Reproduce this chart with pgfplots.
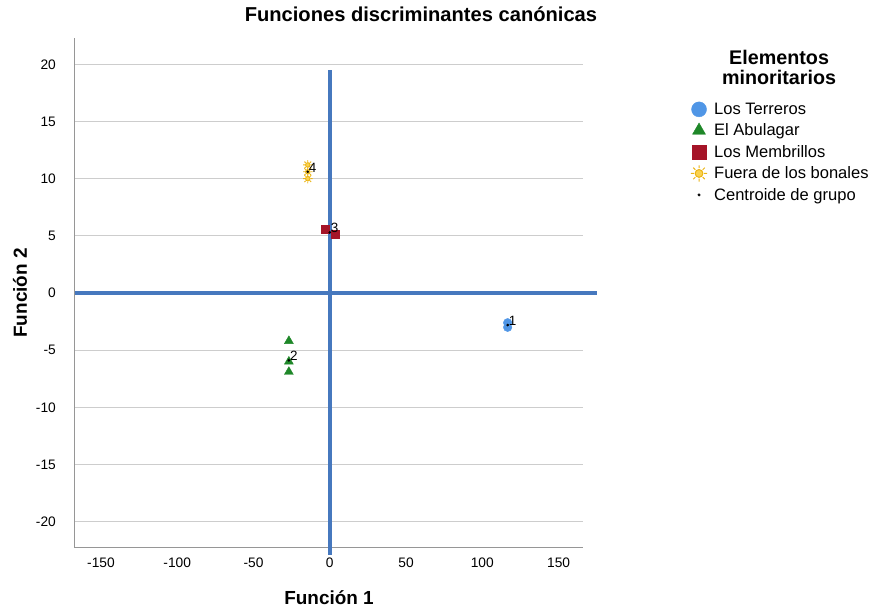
\documentclass[border=0pt]{standalone}
\usepackage{pgfplots}
\pgfplotsset{compat=1.18}
\usepackage{fontspec}
\setmainfont{Liberation Sans}
\definecolor{lineblue}{RGB}{70,120,190}
\definecolor{ptblue}{RGB}{80,150,230}
\definecolor{ptgreen}{RGB}{30,135,40}
\definecolor{ptred}{RGB}{165,20,40}
\definecolor{sunfill}{RGB}{250,210,80}
\definecolor{sundraw}{RGB}{235,180,20}
\definecolor{gridgray}{RGB}{205,205,205}
\definecolor{axgray}{RGB}{150,150,150}
\pgfdeclareplotmark{sun}{%
  \pgfpathcircle{\pgfpointorigin}{0.6\pgfplotmarksize}%
  \pgfusepathqfillstroke
  \foreach \a in {0,45,...,315}{%
    \pgfpathmoveto{\pgfpointpolar{\a}{0.8\pgfplotmarksize}}%
    \pgfpathlineto{\pgfpointpolar{\a}{1.25\pgfplotmarksize}}%
  }%
  \pgfusepathqstroke
}
\begin{document}
\begin{tikzpicture}
\begin{axis}[
  at={(0,0)}, anchor=south west,
  scale only axis, width=508bp, height=510bp,
  xmin=-167, xmax=166, ymin=-22.3, ymax=22.3,
  xtick={-150,-100,...,150}, ytick={-20,-15,...,20},
  axis x line*=bottom, axis y line*=left,
  axis line style={axgray, line width=1bp, -},
  major tick length=0pt,
  ymajorgrids, grid style={gridgray, line width=1bp},
  clip=false,
  /pgf/number format/assume math mode=true,
  tick label style={font=\fontsize{13.8}{16}\selectfont, inner sep=0pt},
  yticklabel style={anchor=east, xshift=-19bp},
  xticklabel style={anchor=north, yshift=-10bp},
  xlabel={Función 1}, ylabel={Función 2},
  label style={font=\bfseries\fontsize{19}{22}\selectfont},
  xlabel style={at={(axis description cs:0.5,-0.098)}, anchor=center},
  ylabel style={at={(axis description cs:-0.108,0.5)}, anchor=center},
  title={Funciones discriminantes canónicas},
  title style={font=\bfseries\fontsize{20.2}{22}\selectfont, at={(axis description cs:0.681,1.035)}, anchor=center},
  legend style={at={(axis description cs:1.212,0.877)}, anchor=north west, draw=none, fill=none,
    font=\fontsize{16.6}{19}\selectfont, row sep=4bp, inner sep=0pt,
    /tikz/every odd column/.append style={column sep=5bp}},
  legend cell align=left,
]
% data points
\addplot[only marks, mark=*, mark size=4.3bp, draw=ptblue, fill=ptblue, forget plot]
  coordinates {(116.6,-3.0) (116.6,-2.6)};
\addplot[only marks, mark=triangle*, mark size=5.2bp, draw=ptgreen, fill=ptgreen, forget plot]
  coordinates {(-26.8,-4.2) (-26.8,-6.0) (-26.8,-6.9)};
\addplot[only marks, mark=square*, mark size=4bp, draw=ptred, fill=ptred, forget plot]
  coordinates {(-3.3,5.6) (3.3,5.1)};
\addplot[only marks, mark=sun, mark size=3.8bp, draw=sundraw, fill=sunfill, line width=0.9bp, forget plot]
  coordinates {(-14.4,11.2) (-14.4,10.6) (-14.4,10.0)};
% reference lines through origin
\addplot[lineblue, line width=3.6bp, forget plot] coordinates {(-167,0) (175.5,0)};
\addplot[lineblue, line width=3.6bp, forget plot] coordinates {(0,19.5) (0,-22.9)};
% centroids
\addplot[only marks, mark=*, mark size=1.1bp, black, forget plot,
  nodes near coords, point meta=explicit symbolic,
  every node near coord/.append style={anchor=south west, font=\fontsize{13.5}{15}\selectfont, inner sep=0.5bp, xshift=0.5bp, yshift=-1bp}]
  coordinates {(116.6,-2.8)[1] (-26.8,-5.9)[2] (0,5.3)[3] (-14.4,10.6)[4]};
% legend images
\addlegendimage{only marks, mark=*, mark size=7.5bp, draw=ptblue, fill=ptblue}
\addlegendentry{Los Terreros}
\addlegendimage{only marks, mark=triangle*, mark size=7.5bp, draw=ptgreen, fill=ptgreen}
\addlegendentry{El Abulagar}
\addlegendimage{only marks, mark=square*, mark size=7bp, draw=ptred, fill=ptred}
\addlegendentry{Los Membrillos}
\addlegendimage{only marks, mark=sun, mark size=6.5bp, draw=sundraw, fill=sunfill, line width=1bp}
\addlegendentry{Fuera de los bonales}
\addlegendimage{only marks, mark=*, mark size=1.3bp, black}
\addlegendentry{Centroide de grupo}
\node[align=center, font=\bfseries\fontsize{19.8}{20}\selectfont] at (axis description cs:1.386,0.943) {Elementos\\minoritarios};
\end{axis}
\pgfresetboundingbox
\path[use as bounding box] (-75bp,-61bp) rectangle (794bp,548bp);
\end{tikzpicture}
\end{document}
